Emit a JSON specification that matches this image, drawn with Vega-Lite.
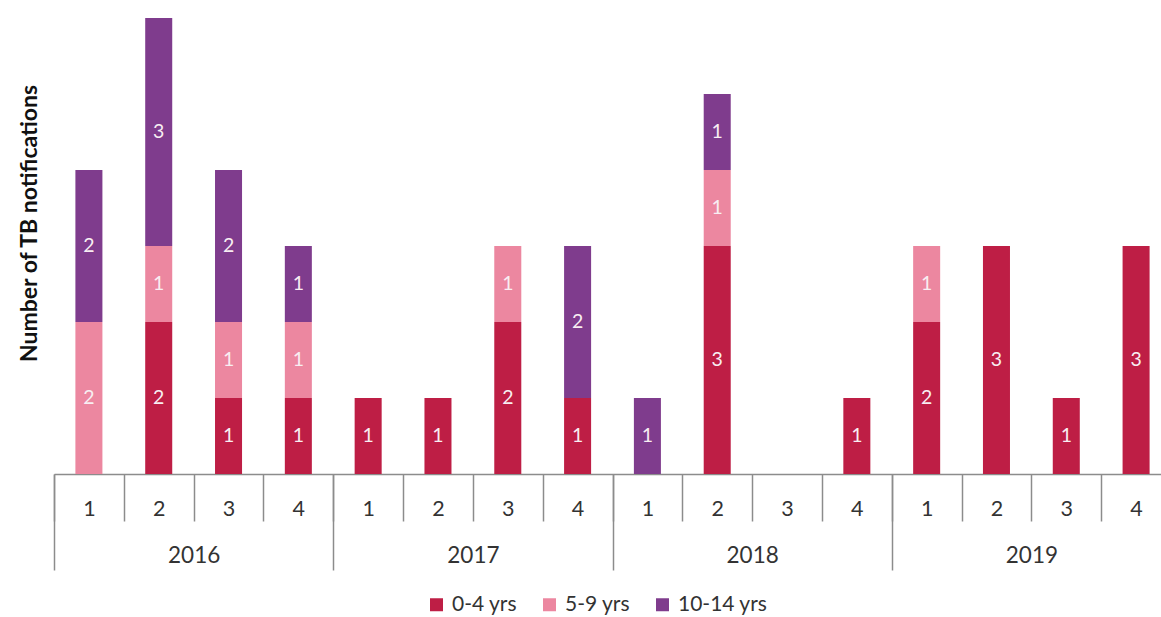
{
  "$schema": "https://vega.github.io/schema/vega-lite/v6.json",
  "width": 1107,
  "height": 456,
  "autosize": {"type": "none"},
  "padding": {"left": 54, "top": 18, "right": 0, "bottom": 143},
  "background": "white",
  "config": {"view": {"stroke": null}, "font": "Lato", "axis": {"grid": false}},
  "datasets": {
    "tb": [
      {"yq": "2016-1", "age": "5-9 yrs", "ord": 2, "n": 2},
      {"yq": "2016-1", "age": "10-14 yrs", "ord": 3, "n": 2},
      {"yq": "2016-2", "age": "0-4 yrs", "ord": 1, "n": 2},
      {"yq": "2016-2", "age": "5-9 yrs", "ord": 2, "n": 1},
      {"yq": "2016-2", "age": "10-14 yrs", "ord": 3, "n": 3},
      {"yq": "2016-3", "age": "0-4 yrs", "ord": 1, "n": 1},
      {"yq": "2016-3", "age": "5-9 yrs", "ord": 2, "n": 1},
      {"yq": "2016-3", "age": "10-14 yrs", "ord": 3, "n": 2},
      {"yq": "2016-4", "age": "0-4 yrs", "ord": 1, "n": 1},
      {"yq": "2016-4", "age": "5-9 yrs", "ord": 2, "n": 1},
      {"yq": "2016-4", "age": "10-14 yrs", "ord": 3, "n": 1},
      {"yq": "2017-1", "age": "0-4 yrs", "ord": 1, "n": 1},
      {"yq": "2017-2", "age": "0-4 yrs", "ord": 1, "n": 1},
      {"yq": "2017-3", "age": "0-4 yrs", "ord": 1, "n": 2},
      {"yq": "2017-3", "age": "5-9 yrs", "ord": 2, "n": 1},
      {"yq": "2017-4", "age": "0-4 yrs", "ord": 1, "n": 1},
      {"yq": "2017-4", "age": "10-14 yrs", "ord": 3, "n": 2},
      {"yq": "2018-1", "age": "10-14 yrs", "ord": 3, "n": 1},
      {"yq": "2018-2", "age": "0-4 yrs", "ord": 1, "n": 3},
      {"yq": "2018-2", "age": "5-9 yrs", "ord": 2, "n": 1},
      {"yq": "2018-2", "age": "10-14 yrs", "ord": 3, "n": 1},
      {"yq": "2018-4", "age": "0-4 yrs", "ord": 1, "n": 1},
      {"yq": "2019-1", "age": "0-4 yrs", "ord": 1, "n": 2},
      {"yq": "2019-1", "age": "5-9 yrs", "ord": 2, "n": 1},
      {"yq": "2019-2", "age": "0-4 yrs", "ord": 1, "n": 3},
      {"yq": "2019-3", "age": "0-4 yrs", "ord": 1, "n": 1},
      {"yq": "2019-4", "age": "0-4 yrs", "ord": 1, "n": 3}
    ],
    "years": [{"year": "2016"}, {"year": "2017"}, {"year": "2018"}, {"year": "2019"}]
  },
  "layer": [
    {
      "data": {"name": "tb"},
      "mark": {"type": "bar", "width": {"band": 0.387}},
      "encoding": {
        "x": {
          "field": "yq",
          "type": "nominal",
          "scale": {
            "domain": ["2016-1","2016-2","2016-3","2016-4","2017-1","2017-2","2017-3","2017-4","2018-1","2018-2","2018-3","2018-4","2019-1","2019-2","2019-3","2019-4"],
            "range": [0, 1117],
            "paddingInner": 0,
            "paddingOuter": 0
          },
          "axis": {
            "orient": "bottom",
            "offset": 0,
            "title": null,
            "labelExpr": "datum.label ? slice(datum.label, 5) : ''",
            "labelAngle": 0,
            "tickBand": "extent",
            "tickSize": 47,
            "tickColor": "#8c8c8c",
            "tickWidth": 1.5,
            "domainColor": "#8c8c8c",
            "domainWidth": 1.5,
            "labelPadding": -23,
            "labelFontSize": 21.5,
            "labelColor": "#333333"
          }
        },
        "y": {
          "field": "n",
          "type": "quantitative",
          "stack": "zero",
          "scale": {"domain": [0, 6], "nice": false},
          "axis": {
            "title": "Number of TB notifications",
            "labels": false,
            "ticks": false,
            "domain": false,
            "titleFontSize": 23,
            "titleFontWeight": "bold",
            "titleColor": "#111111",
            "titleX": -25,
            "titleY": 205,
            "titleBaseline": "middle",
            "titleAlign": "center",
            "titleAngle": -90
          }
        },
        "color": {
          "field": "age",
          "type": "nominal",
          "scale": {"domain": ["0-4 yrs", "5-9 yrs", "10-14 yrs"], "range": ["#BE1E45", "#EC87A0", "#7F3C8D"]},
          "legend": {
            "title": null,
            "orient": "none",
            "direction": "horizontal",
            "legendX": 372,
            "legendY": 576,
            "symbolType": "square",
            "symbolSize": 169,
            "symbolStrokeWidth": 0,
            "symbolOpacity": 1,
            "labelFontSize": 21,
            "labelColor": "#333333",
            "labelOffset": 5,
            "columnPadding": 21
          }
        },
        "order": {"field": "ord", "type": "quantitative"}
      }
    },
    {
      "data": {"name": "tb"},
      "transform": [
        {"stack": "n", "groupby": ["yq"], "sort": [{"field": "ord", "order": "ascending"}], "as": ["y0", "y1"]},
        {"calculate": "(datum.y0 + datum.y1) / 2", "as": "ymid"}
      ],
      "mark": {"type": "text", "color": "#f8eef2", "fontSize": 19.5, "baseline": "middle"},
      "encoding": {
        "x": {
          "field": "yq",
          "type": "nominal",
          "scale": {
            "domain": ["2016-1","2016-2","2016-3","2016-4","2017-1","2017-2","2017-3","2017-4","2018-1","2018-2","2018-3","2018-4","2019-1","2019-2","2019-3","2019-4"],
            "range": [0, 1117],
            "paddingInner": 0,
            "paddingOuter": 0
          },
          "axis": null
        },
        "y": {"field": "ymid", "type": "quantitative"},
        "text": {"field": "n", "type": "quantitative"}
      }
    },
    {
      "data": {"name": "years"},
      "mark": {"type": "point", "opacity": 0},
      "encoding": {
        "x": {
          "field": "year",
          "type": "nominal",
          "scale": {"range": [0, 1117], "paddingInner": 0, "paddingOuter": 0},
          "axis": {
            "orient": "bottom",
            "offset": 0,
            "title": null,
            "labelAngle": 0,
            "domain": false,
            "tickBand": "extent",
            "tickSize": 96,
            "tickColor": "#8c8c8c",
            "tickWidth": 1.5,
            "labelPadding": -25.5,
            "labelFontSize": 22.5,
            "labelColor": "#333333"
          }
        }
      }
    }
  ],
  "resolve": {"scale": {"x": "independent"}, "axis": {"x": "independent"}}
}
